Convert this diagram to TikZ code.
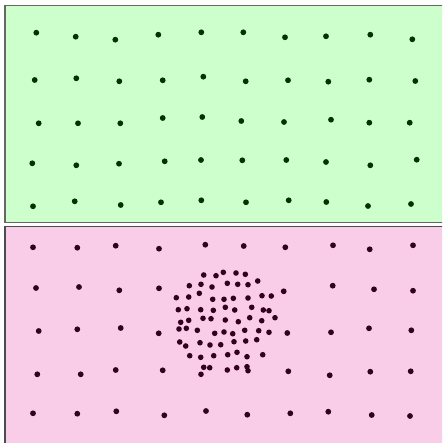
\documentclass[tikz,border=0pt]{standalone}
\definecolor{greenbg}{HTML}{CCFFCC}
\definecolor{pinkbg}{HTML}{F9CCE8}
\definecolor{greendot}{HTML}{003300}
\definecolor{pinkdot}{HTML}{330022}
\begin{document}
\begin{tikzpicture}[x=1pt,y=-1pt,
  gdot/.style={fill=greendot},
  pdot/.style={fill=pinkdot},
  panel/.style={line width=1.2pt}]
\useasboundingbox (0,0) rectangle (442,443);
\clip (0,0) rectangle (442,443);
\filldraw[panel,fill=greenbg,draw=black!60] (5,5.7) rectangle (446,222.7);
\filldraw[panel,fill=pinkbg,draw=black!70] (5,226.3) rectangle (446,447);
% green dots
\foreach \x/\y in {36.3/32.7,75.7/36.7,115.3/39.7,158.3/34.7,201.3/32.3,
  243.3/32.3,285/37.3,326/36.3,370.3/34.7,412.3/39.3,
  34.7/80,76.3/78.3,119.3/81.3,162.7/80.3,203.3/76.7,
  245.7/81.3,288/80.3,328.3/81.7,369.3/79.7,415.3/81,
  38.7/123.3,78/123.3,120.3/123.3,162.7/118,202.3/117,
  241.3/121,284/122,331/119.7,369.3/122.7,409.7/122.7,
  32.3/163.3,76.3/165.3,119/163.7,164.7/161.3,201/160,
  242.3/160.3,286.3/160,326/162,370.3/165.3,416.7/159.7,
  33/206.3,74.7/201.3,120.7/205,161/202.3,201.3/200.3,
  246/202.3,288.7/200.3,326.3/202,368/206,411/204}
  \fill[gdot] (\x,\y) circle[radius=2.9pt];
% pink grid dots
\foreach \x/\y in {33/247.3,77.3/247.7,115.7/245.7,159/248.7,205.3/244.7,
  243.7/246,285.3/247.3,333/245.3,369.7/249.3,413/245.3,
  36/288,79/287,119.3/290.3,159/288.3,283.7/291.3,332.7/285.7,374/289.3,413/290.7,
  38.7/331,77.3/329.3,120.7/328,158.7/333.3,287.3/333,331/332.3,369/328.3,411.3/330.3,
  37.3/374.3,80.7/374.3,115.7/370,162.7/370.3,288.3/371.3,329.7/375.3,370.3/371.7,410.7/371.3,
  33/413.3,77.3/413.7,116.3/411.3,164.3/415.3,206/411,
  247.3/414.7,290.3/413.3,328.3/411.7,371.7/415,410/416}
  \fill[pdot] (\x,\y) circle[radius=2.9pt];
% cluster dots
\foreach \x/\y in {203.7/275,216/275.7,223.3/272.3,236/273,245.3/274.3,
  189.3/285.7,201/284.3,212/287,227.3/283.3,237.7/284.3,248/284.7,257.7/281,
  176.3/297.7,188.7/297,199.3/293.3,212.7/299.3,224/299.3,233.3/298.3,248/298,262/295.7,271.3/296,
  178.3/309.7,187/308.7,200.7/309.7,213.3/310.3,225.3/307.3,234.7/310,251.7/307.3,263.3/310,269/310.7,
  180.7/322.3,188.7/320.3,203/318.3,211/318.7,225.3/320,238.3/321.7,249.7/317.7,261.7/320.7,275/317.7,
  179/329,186.3/328.3,197.3/330.3,214.7/333.3,224/332,232.7/333.7,244.7/330.3,258.7/330.7,269/332.3,
  179.7/342,185.7/346,200/342.7,210/345,220.7/344.7,234/341.7,245.7/341,256.7/339.7,
  189.7/355.7,200.7/357.3,213.7/355.7,227.7/354.7,237/352.3,247/356.7,262.7/354.7,
  203.7/367.3,209.7/367.7,201/374.3,227.3/370,236.7/367.7,247/366.7,248/370.7}
  \fill[pdot] (\x,\y) circle[radius=2.8pt];
\end{tikzpicture}
\end{document}
